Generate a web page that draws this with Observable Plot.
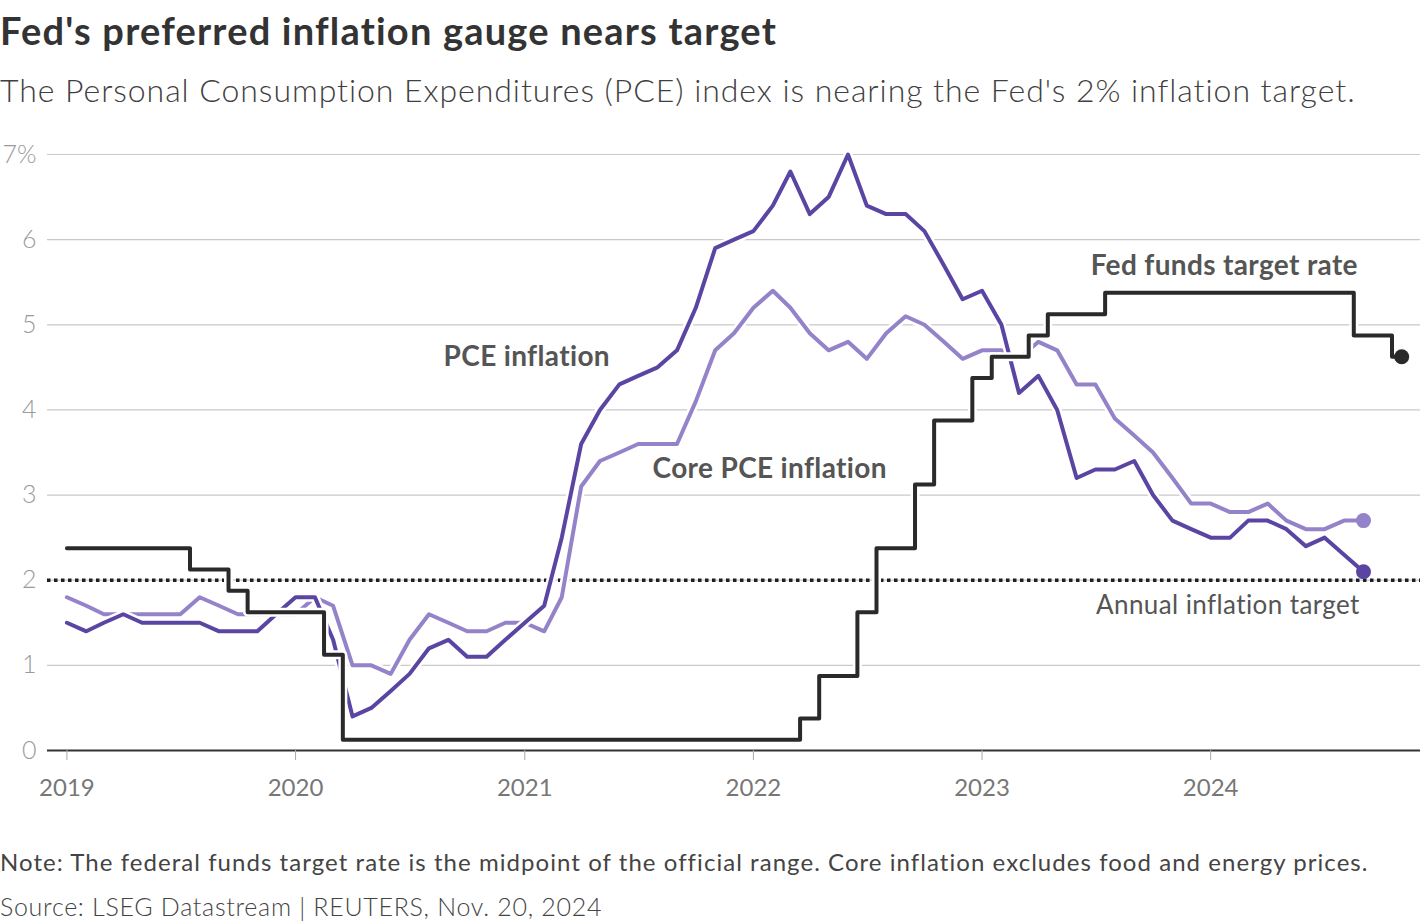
<!DOCTYPE html>
<html>
<head>
<meta charset="utf-8">
<script src="https://cdn.jsdelivr.net/npm/d3@7"></script>
<script src="https://cdn.jsdelivr.net/npm/@observablehq/plot@0.6"></script>
<style>
  html, body { margin: 0; padding: 0; background: #fff; }
  body { width: 1420px; height: 922px; position: relative; overflow: hidden; font-family: Lato, "Noto Sans", sans-serif; }
  .title { position: absolute; left: 0; top: 8px; font-size: 38px; line-height: 44px; font-weight: 700; letter-spacing: 1.2px; color: #333; white-space: nowrap; }
  .subtitle { position: absolute; left: 0; top: 70px; font-size: 32px; line-height: 40px; font-weight: 300; letter-spacing: 0.95px; color: #404040; white-space: nowrap; }
  #chart { position: absolute; left: 0; top: 120px; }
  .note { position: absolute; left: 0; top: 847px; font-size: 24px; line-height: 30px; font-weight: 400; letter-spacing: 1.05px; color: #444; white-space: nowrap; }
  .source { position: absolute; left: 0; top: 891px; font-size: 25px; line-height: 30px; font-weight: 300; letter-spacing: 0.7px; color: #444; white-space: nowrap; }
</style>
</head>
<body>
<div class="title">Fed's preferred inflation gauge nears target</div>
<div class="subtitle">The Personal Consumption Expenditures (PCE) index is nearing the Fed's 2% inflation target.</div>
<div id="chart"></div>
<div class="note">Note: The federal funds target rate is the midpoint of the official range. Core inflation excludes food and energy prices.</div>
<div class="source">Source: LSEG Datastream | REUTERS, Nov. 20, 2024</div>
<script>
// Monthly series, starting January 2019
const startMonth = "2019-01-01";

// PCE inflation, Jan 2019 – Sep 2024 (%)
const pceValues = [
  1.5, 1.4, 1.5, 1.6, 1.5, 1.5, 1.5, 1.5, 1.4, 1.4, 1.4, 1.6,
  1.8, 1.8, 1.3, 0.4, 0.5, 0.7, 0.9, 1.2, 1.3, 1.1, 1.1, 1.3,
  1.5, 1.7, 2.5, 3.6, 4.0, 4.3, 4.4, 4.5, 4.7, 5.2, 5.9, 6.0,
  6.1, 6.4, 6.8, 6.3, 6.5, 7.0, 6.4, 6.3, 6.3, 6.1, 5.7, 5.3,
  5.4, 5.0, 4.2, 4.4, 4.0, 3.2, 3.3, 3.3, 3.4, 3.0, 2.7, 2.6,
  2.5, 2.5, 2.7, 2.7, 2.6, 2.4, 2.5, 2.3, 2.1
];

// Core PCE inflation, Jan 2019 – Sep 2024 (%)
const coreValues = [
  1.8, 1.7, 1.6, 1.6, 1.6, 1.6, 1.6, 1.8, 1.7, 1.6, 1.6, 1.6,
  1.6, 1.8, 1.7, 1.0, 1.0, 0.9, 1.3, 1.6, 1.5, 1.4, 1.4, 1.5,
  1.5, 1.4, 1.8, 3.1, 3.4, 3.5, 3.6, 3.6, 3.6, 4.1, 4.7, 4.9,
  5.2, 5.4, 5.2, 4.9, 4.7, 4.8, 4.6, 4.9, 5.1, 5.0, 4.8, 4.6,
  4.7, 4.7, 4.6, 4.8, 4.7, 4.3, 4.3, 3.9, 3.7, 3.5, 3.2, 2.9,
  2.9, 2.8, 2.8, 2.9, 2.7, 2.6, 2.6, 2.7, 2.7
];

// Fed funds target rate (midpoint), Jan 2019 – Nov 2024 (%)
const fedValues = [
  2.375, 2.375, 2.375, 2.375, 2.375, 2.375, 2.375, 2.125, 2.125, 1.875, 1.625, 1.625,
  1.625, 1.625, 1.125, 0.125, 0.125, 0.125, 0.125, 0.125, 0.125, 0.125, 0.125, 0.125,
  0.125, 0.125, 0.125, 0.125, 0.125, 0.125, 0.125, 0.125, 0.125, 0.125, 0.125, 0.125,
  0.125, 0.125, 0.125, 0.375, 0.875, 0.875, 1.625, 2.375, 2.375, 3.125, 3.875, 3.875,
  4.375, 4.625, 4.625, 4.875, 5.125, 5.125, 5.125, 5.375, 5.375, 5.375, 5.375, 5.375,
  5.375, 5.375, 5.375, 5.375, 5.375, 5.375, 5.375, 5.375, 4.875, 4.875, 4.625
];

const inflationTarget = 2;
const yTicks = [0, 1, 2, 3, 4, 5, 6, 7];
const xTickYears = ["2019", "2020", "2021", "2022", "2023", "2024"];

const seriesLabels = [
  {date: "2021-05-17", value: 4.62, text: "PCE inflation", bold: true},
  {date: "2022-08-02", value: 3.30, text: "Core PCE inflation", bold: true},
  {date: "2024-08-23", value: 5.69, text: "Fed funds target rate", bold: true},
  {date: "2024-08-26", value: 1.70, text: "Annual inflation target", bold: false}
];

const start = new Date(startMonth);
const toRows = (vals) => vals.map((v, i) => ({date: d3.utcMonth.offset(start, i), value: v}));
const pce = toRows(pceValues);
const core = toRows(coreValues);
const fed = toRows(fedValues);
const labels = seriesLabels.map(d => ({...d, date: new Date(d.date)}));

const cPce = "#5b45a3";
const cCore = "#9583c9";
const cFed = "#2a2a2a";

const chart = Plot.plot({
  width: 1420,
  height: 690,
  marginLeft: 47,
  marginRight: 0,
  marginTop: 34,
  marginBottom: 60,
  style: {fontFamily: "Lato, 'Noto Sans', sans-serif", background: "white", overflow: "visible"},
  x: {type: "utc", domain: [new Date("2018-12-01"), new Date("2024-12-01")]},
  y: {domain: [0, 7]},
  marks: [
    Plot.ruleY(yTicks.filter(d => d > 0), {stroke: "#c9c9c9", strokeWidth: 1.2}),
    Plot.ruleY([inflationTarget], {stroke: "#1f1f1f", strokeWidth: 3.5, strokeDasharray: "3.5,3.5"}),
    Plot.ruleY([0], {stroke: "#333", strokeWidth: 2}),
    Plot.axisY({ticks: yTicks, tickSize: 0, tickPadding: 11, fontSize: 25, fontWeight: 300, color: "#9a9a9a",
      tickFormat: d => d === 7 ? "7%" : String(d), label: null}),
    Plot.axisX({ticks: xTickYears.map(y => new Date(y + "-01-01")), tickSize: 10, tickPadding: 18, fontSize: 24,
      color: "#777", stroke: "#aaa", tickFormat: d => String(d.getUTCFullYear()), label: null}),
    // Core PCE
    Plot.line(core, {x: "date", y: "value", stroke: "white", strokeWidth: 9}),
    Plot.line(core, {x: "date", y: "value", stroke: cCore, strokeWidth: 4}),
    // PCE
    Plot.line(pce, {x: "date", y: "value", stroke: "white", strokeWidth: 9}),
    Plot.line(pce, {x: "date", y: "value", stroke: cPce, strokeWidth: 4}),
    // Fed funds
    Plot.line(fed, {x: "date", y: "value", curve: "step", stroke: "white", strokeWidth: 9}),
    Plot.line(fed, {x: "date", y: "value", curve: "step", stroke: cFed, strokeWidth: 4}),
    // End dots
    Plot.dot(core.slice(-1), {x: "date", y: "value", r: 7.5, fill: cCore}),
    Plot.dot(pce.slice(-1), {x: "date", y: "value", r: 7.5, fill: cPce}),
    Plot.dot(fed.slice(-1), {x: "date", y: "value", r: 7.5, fill: cFed}),
    // Labels
    Plot.text(labels.filter(d => d.bold), {x: "date", y: "value", text: "text", textAnchor: "end",
      fontSize: 28, fontWeight: 700, fill: "#555"}),
    Plot.text(labels.filter(d => !d.bold), {x: "date", y: "value", text: "text", textAnchor: "end",
      fontSize: 26, fontWeight: 400, fill: "#555"})
  ]
});
// letter spacing for annotation labels
d3.select(chart).selectAll("g[aria-label='text'] text").each(function() {
  const t = d3.select(this);
  const w = t.attr("font-weight") || d3.select(this.parentNode).attr("font-weight");
  t.attr("letter-spacing", w == 700 ? "0.35px" : "0.4px");
});
document.getElementById("chart").appendChild(chart);
</script>
</body>
</html>
